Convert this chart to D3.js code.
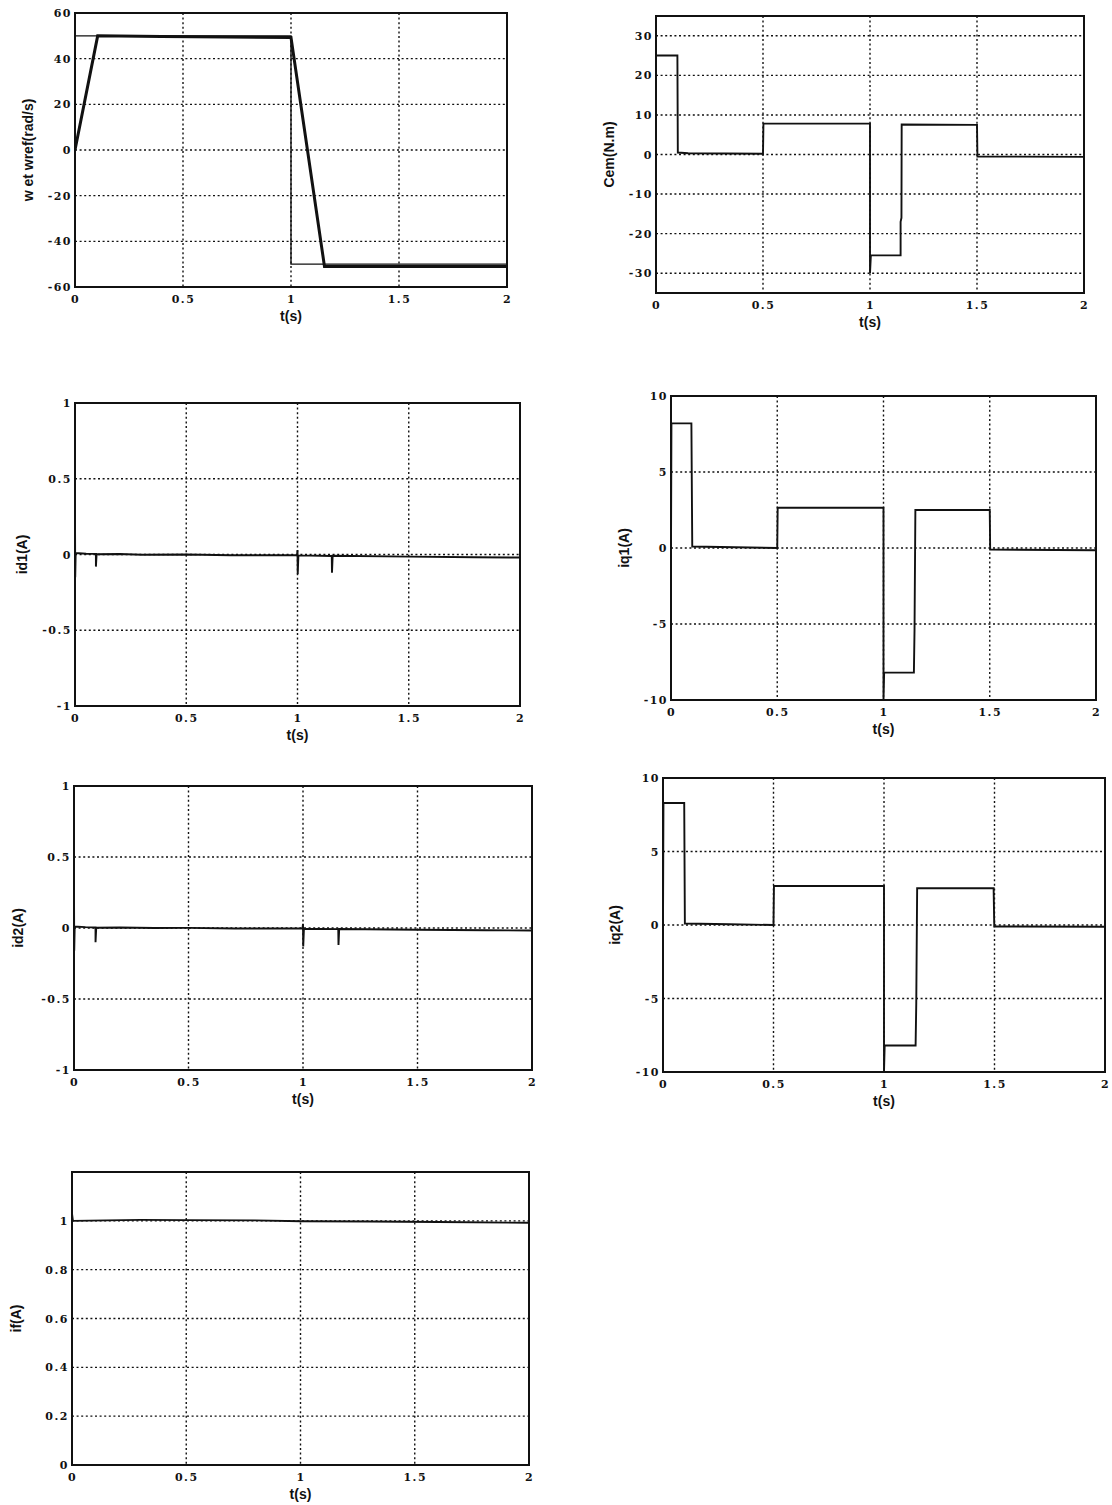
<!DOCTYPE html>
<html>
<head>
<meta charset="utf-8">
<script src="https://cdn.jsdelivr.net/npm/d3@7"></script>
<style>
  body { margin: 0; background: #fff; }
  .tick text { font-family: "DejaVu Serif", serif; font-weight: bold; font-size: 11px; letter-spacing: 1.5px; fill: #111; }
  .lbl { font-family: "Liberation Sans", Arial, sans-serif; font-weight: bold; font-size: 14px; fill: #111; }
</style>
</head>
<body>
<svg id="fig" width="1112" height="1505"></svg>
<script>
// tick values
const xTicks = [0, 0.5, 1, 1.5, 2];
const wTicks = [-60, -40, -20, 0, 20, 40, 60];
const cemTicks = [-30, -20, -10, 0, 10, 20, 30];
const idTicks = [-1, -0.5, 0, 0.5, 1];
const iqTicks = [-10, -5, 0, 5, 10];
const ifTicks = [0, 0.2, 0.4, 0.6, 0.8, 1];

// series, [t, value]
const wrefData = [[0,50],[1,50],[1,-50],[2,-50]];
const wData = [[0,0],[0.105,50],[0.4,49.7],[0.7,49.5],[1.0,49.3],[1.155,-51],[1.5,-51],[2,-51]];

const cemData = [[0,0],[0,25],[0.1,25],[0.102,0.5],[0.15,0.3],[0.5,0.2],[0.502,7.8],[1.0,7.8],[1.0,-30],[1.004,-25.5],
  [1.143,-25.5],[1.143,-17],[1.147,-16],[1.148,7.6],[1.5,7.5],[1.502,-0.5],[2,-0.6]];

const id1Data = [[0,0],[0,0.25],[0.001,-0.15],[0.003,0.01],[0.05,0.005],[0.094,0.004],[0.094,-0.08],[0.097,0.002],
  [0.2,0.003],[0.3,-0.002],[0.5,0],[0.7,-0.005],[0.998,-0.005],[1.0,0.03],[1.001,-0.13],[1.004,-0.006],
  [1.154,-0.01],[1.155,-0.12],[1.158,-0.008],[1.5,-0.014],[1.8,-0.018],[2,-0.02]];

const iq1Data = [[0,0],[0.002,8.2],[0.096,8.2],[0.1,0.1],[0.3,0.05],[0.5,0],[0.502,2.65],[1.0,2.65],[1.0,-10],[1.003,-8.2],
  [1.143,-8.2],[1.146,-5.4],[1.15,2.5],[1.5,2.5],[1.502,-0.1],[2,-0.15]];

const id2Data = [[0,0],[0,0.26],[0.001,-0.16],[0.003,0.01],[0.05,0.006],[0.094,0.004],[0.094,-0.1],[0.097,0.002],
  [0.2,0.004],[0.35,0],[0.5,0.001],[0.7,-0.004],[0.998,-0.004],[1.0,0.03],[1.001,-0.13],[1.004,-0.005],
  [1.154,-0.008],[1.155,-0.12],[1.158,-0.007],[1.5,-0.012],[1.8,-0.016],[2,-0.018]];

const iq2Data = [[0,0],[0.002,8.3],[0.096,8.3],[0.099,0.1],[0.3,0.05],[0.5,0],[0.502,2.65],[1.0,2.65],[1.0,-10],[1.003,-8.2],
  [1.143,-8.2],[1.146,-5.3],[1.15,2.5],[1.496,2.5],[1.499,-0.1],[2,-0.12]];

const ifData = [[0,1.0],[0,1.03],[0.004,1.0],[0.15,1.002],[0.3,1.004],[0.5,1.003],[0.8,1.002],[1.0,0.998],
  [1.3,0.997],[1.6,0.995],[2,0.992]];

// panel layout: [left, right, top, bottom], labelX = x of the rotated y label
const panels = [
  { box:[75,507,13,287], yDomain:[-60,60], yTicks:wTicks, label:"w et wref(rad/s)", labelX:28,
    series:[{data:wrefData, width:1.4},{data:wData, width:3}] },
  { box:[656,1084,16,293], yDomain:[-35,35], yTicks:cemTicks, label:"Cem(N.m)", labelX:609,
    series:[{data:cemData, width:1.9}] },
  { box:[75,520,403,706], yDomain:[-1,1], yTicks:idTicks, label:"id1(A)", labelX:22,
    series:[{data:id1Data, width:1.9}] },
  { box:[671,1096,396,700], yDomain:[-10,10], yTicks:iqTicks, label:"iq1(A)", labelX:624,
    series:[{data:iq1Data, width:1.9}] },
  { box:[74,532,786,1070], yDomain:[-1,1], yTicks:idTicks, label:"id2(A)", labelX:18,
    series:[{data:id2Data, width:1.9}] },
  { box:[663,1105,778,1072], yDomain:[-10,10], yTicks:iqTicks, label:"iq2(A)", labelX:615,
    series:[{data:iq2Data, width:1.9}] },
  { box:[72,529,1172,1465], yDomain:[0,1.2], yTicks:ifTicks, label:"if(A)", labelX:16,
    series:[{data:ifData, width:1.9}] }
];

const svg = d3.select("#fig");
const fmt = d => String(d);

panels.forEach(function(p, i){
  let [L, R, T, B] = p.box;
  let xScale = d3.scaleLinear().domain([0,2]).range([L,R]);
  let yScale = d3.scaleLinear().domain(p.yDomain).range([B,T]);
  let g = svg.append("g");

  // dotted grid
  g.append("g").selectAll("line")
    .data(xTicks.slice(1,-1))
    .join("line")
    .attr("x1",d=>xScale(d)).attr("x2",d=>xScale(d))
    .attr("y1",T).attr("y2",B)
    .attr("stroke","#111").attr("stroke-width",1.4).attr("stroke-dasharray","2,2.6");
  g.append("g").selectAll("line")
    .data(p.yTicks.filter(d=>d>p.yDomain[0] && d<p.yDomain[1]))
    .join("line")
    .attr("x1",L).attr("x2",R)
    .attr("y1",d=>yScale(d)).attr("y2",d=>yScale(d))
    .attr("stroke","#111").attr("stroke-width",1.4).attr("stroke-dasharray","2,2.6");

  // axes (labels only)
  let xaxis = d3.axisBottom(xScale).tickValues(xTicks).tickFormat(fmt).tickSize(0).tickPadding(8);
  g.append("g").attr("transform","translate(0,"+B+")").call(xaxis).call(s=>s.select(".domain").remove());
  let yaxis = d3.axisLeft(yScale).tickValues(p.yTicks).tickFormat(fmt).tickSize(0).tickPadding(3);
  g.append("g").attr("transform","translate("+L+",0)").call(yaxis).call(s=>s.select(".domain").remove());

  // clip + lines
  svg.append("clipPath").attr("id","clip"+i)
    .append("rect").attr("x",L).attr("y",T-2).attr("width",R-L).attr("height",B-T+4);
  let line = d3.line().x(d=>xScale(d[0])).y(d=>yScale(d[1]));
  g.append("g").attr("clip-path","url(#clip"+i+")")
    .selectAll("path")
    .data(p.series)
    .join("path")
    .attr("fill","none")
    .attr("stroke","#111")
    .attr("stroke-width",d=>d.width)
    .attr("d",d=>line(d.data));

  // frame
  g.append("rect").attr("x",L).attr("y",T).attr("width",R-L).attr("height",B-T)
    .attr("fill","none").attr("stroke","#111").attr("stroke-width",2);

  // axis labels
  g.append("text").attr("class","lbl")
    .attr("text-anchor","middle")
    .attr("x",(L+R)/2).attr("y",B+34)
    .text("t(s)");
  g.append("text").attr("class","lbl")
    .attr("text-anchor","middle")
    .attr("transform","translate("+(p.labelX+5)+","+((T+B)/2)+") rotate(-90)")
    .text(p.label);
});
</script>
</body>
</html>
